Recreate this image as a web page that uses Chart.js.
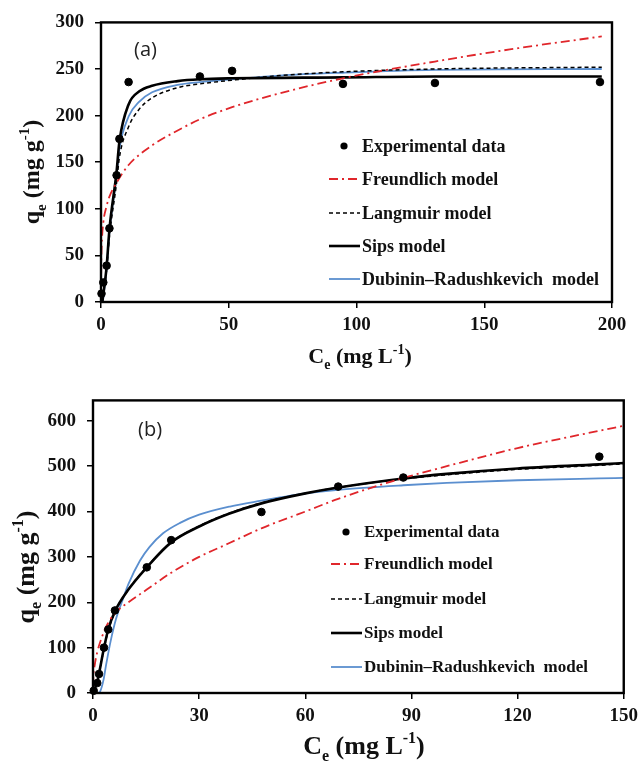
<!DOCTYPE html>
<html>
<head>
<meta charset="utf-8">
<script src="https://cdn.jsdelivr.net/npm/chart.js@4.4.1/dist/chart.umd.min.js"></script>
<style>
html, body { margin: 0; padding: 0; background: #fff; }
#chartA { position: absolute; left: 0; top: 0; }
#chartB { position: absolute; left: 0; top: 378px; }
</style>
</head>
<body>
<canvas id="chartA" width="644" height="378"></canvas>
<canvas id="chartB" width="644" height="387"></canvas>
<script>
// --- (a) data ---
const expA_x = [0.2, 0.9, 2.2, 3.3, 6.1, 7.2, 10.8, 38.7, 51.3, 94.7, 130.7, 195.3];
const expA_y = [9, 21, 39, 79, 136, 175, 236, 242, 248, 234, 235, 236];
const freundA_x = [0.02, 0.1, 0.3, 0.9, 2.2, 3.3, 6.1, 10.8, 20, 30, 38.7, 51.3, 70, 94.7, 130.7, 160, 196];
const freundA_y = [10, 40, 62, 85, 103, 113, 128, 147, 168, 184, 196, 209, 224, 240, 258, 271, 285];
const langA_x = [0.5, 0.9, 2.2, 3.3, 6.1, 7.2, 10.8, 15, 20, 30, 38.7, 51.3, 70, 94.7, 130.7, 196];
const langA_y = [0, 8, 35, 70, 128, 155, 188, 207, 219, 230, 234, 238, 243, 247, 250, 252];
const sipsA_x = [0.5, 0.9, 2.2, 3.3, 6.1, 7.2, 10.8, 15, 20, 30, 38.7, 51.3, 94.7, 130.7, 196];
const sipsA_y = [0, 8, 38, 78, 140, 172, 212, 226, 232, 237, 239, 240, 241, 242, 242];
const drA_x = [0.7, 0.9, 2.2, 3.3, 6.1, 7.2, 10.8, 15, 20, 30, 38.7, 51.3, 70, 94.7, 130.7, 196];
const drA_y = [0, 5, 36, 75, 135, 164, 199, 215, 225, 233, 236, 239, 243, 246, 249, 250];
const ticksA_x = [0, 50, 100, 150, 200];
const ticksA_y = [0, 50, 100, 150, 200, 250, 300];

// --- (b) data ---
const expB_x = [0.2, 1.2, 1.7, 3.1, 4.3, 6.2, 15.2, 22.1, 47.6, 69.3, 87.7, 143.1];
const expB_y = [5, 22, 42, 100, 140, 182, 277, 337, 399, 455, 475, 521];
const freundB_x = [0.02, 0.1, 0.5, 1.2, 2.6, 4.3, 7, 10, 15.2, 22.1, 30, 38.4, 47.6, 60, 69.3, 87.7, 100, 120, 143.1, 150];
const freundB_y = [15, 35, 62, 90, 125, 155, 182, 200, 228, 265, 300, 330, 363, 400, 428, 474, 500, 540, 578, 589];
const langB_x = [0, 1.2, 3.1, 4.3, 6.2, 10, 15.2, 22.1, 30, 38.4, 47.6, 60, 69.3, 87.7, 100, 120, 143.1, 150];
const langB_y = [0, 24, 97, 137, 178, 228, 278, 332, 368, 396, 419, 440, 453, 472, 481, 493, 502, 505];
const sipsB_x = [0, 1.2, 3.1, 4.3, 6.2, 10, 15.2, 22.1, 30, 38.4, 47.6, 60, 69.3, 87.7, 100, 120, 143.1, 150];
const sipsB_y = [0, 25, 99, 140, 180, 228, 277, 332, 367, 395, 418, 440, 453, 473, 483, 495, 504, 507];
const drB_x = [1.5, 2, 3, 3.7, 5, 6.5, 8.5, 10, 13.3, 16, 19.8, 24.6, 30, 38.7, 47.6, 52.8, 60, 69.3, 87.7, 100, 120, 143.1, 150];
const drB_y = [0, 3, 30, 62, 115, 163, 208, 240, 292, 322, 352, 375, 393, 411, 424, 431, 440, 448, 458, 463, 469, 473, 474];
const ticksB_x = [0, 30, 60, 90, 120, 150];
const ticksB_y = [0, 100, 200, 300, 400, 500, 600];

const labels = ['Experimental data', 'Freundlich model', 'Langmuir model', 'Sips model', 'Dubinin\u2013Radushkevich  model'];

const SERIF = '"Liberation Serif", "Times New Roman", serif';

function pts(xs, ys) {
    return xs.map((x, i) => ({ x: x, y: ys[i] }));
}

function makeDatasets(exp, fr, la, si, dr) {
    return [
        { label: labels[0], data: exp, showLine: false, pointRadius: 3.8, pointBackgroundColor: '#000', backgroundColor: '#000', borderColor: '#000', clip: false },
        { label: labels[1], data: fr, showLine: true, pointRadius: 0, borderColor: '#e0262b', borderWidth: 1.8, borderDash: [9, 4, 2, 4], cubicInterpolationMode: 'monotone' },
        { label: labels[2], data: la, showLine: true, pointRadius: 0, borderColor: '#000', borderWidth: 1.5, borderDash: [4, 3], cubicInterpolationMode: 'monotone' },
        { label: labels[3], data: si, showLine: true, pointRadius: 0, borderColor: '#000', borderWidth: 2.6, cubicInterpolationMode: 'monotone' },
        { label: labels[4], data: dr, showLine: true, pointRadius: 0, borderColor: '#5b8fcf', borderWidth: 1.8, cubicInterpolationMode: 'monotone' }
    ];
}

// draw a text made of normal / sub / sup pieces, centred on (cx, cy)
function richText(ctx, parts, cx, cy, size, rotate) {
    ctx.save();
    ctx.translate(cx, cy);
    if (rotate) ctx.rotate(-Math.PI / 2);
    ctx.textBaseline = 'alphabetic';
    ctx.fillStyle = '#111';
    const fontFor = k => 'bold ' + (k === 'n' ? size : Math.round(size * 0.62)) + 'px ' + SERIF;
    let total = 0;
    parts.forEach(p => { ctx.font = fontFor(p[1]); total += ctx.measureText(p[0]).width; });
    let x = -total / 2;
    const base = size * 0.33;
    parts.forEach(p => {
        ctx.font = fontFor(p[1]);
        let dy = 0;
        if (p[1] === 'sub') dy = size * 0.28;
        if (p[1] === 'sup') dy = -size * 0.42;
        ctx.fillText(p[0], x, base + dy);
        x += ctx.measureText(p[0]).width;
    });
    ctx.restore();
}

function decorPlugin(o) {
    return {
        id: 'decor',
        afterDraw(chart) {
            const ctx = chart.ctx;
            const a = chart.chartArea;
            // frame
            ctx.save();
            ctx.strokeStyle = '#000';
            ctx.lineWidth = 2.4;
            ctx.strokeRect(a.left, a.top, a.right - a.left, a.bottom - a.top);
            ctx.restore();
            // panel letter
            ctx.save();
            ctx.font = '20px "Open Sans", "Noto Sans", sans-serif';
            ctx.fillStyle = '#222';
            ctx.textBaseline = 'middle';
            ctx.fillText(o.letter, o.letterX, o.letterY);
            ctx.restore();
            // legend
            chart.data.datasets.forEach((ds, i) => {
                const y = o.legendY[i];
                ctx.save();
                if (ds.showLine === false) {
                    ctx.fillStyle = '#000';
                    ctx.beginPath();
                    ctx.arc(o.legendX + 15, y, 3.6, 0, Math.PI * 2);
                    ctx.fill();
                } else {
                    ctx.strokeStyle = ds.borderColor;
                    ctx.lineWidth = ds.borderWidth;
                    ctx.setLineDash(ds.borderDash || []);
                    ctx.beginPath();
                    ctx.moveTo(o.legendX, y);
                    ctx.lineTo(o.legendX + 31, y);
                    ctx.stroke();
                }
                ctx.setLineDash([]);
                ctx.fillStyle = '#111';
                ctx.font = 'bold ' + o.legendSize + 'px ' + SERIF;
                ctx.textBaseline = 'middle';
                ctx.fillText(ds.label, o.legendX + 33, y + 1);
                ctx.restore();
            });
            // axis titles
            richText(ctx, [['C', 'n'], ['e', 'sub'], [' (mg L', 'n'], ['-1', 'sup'], [')', 'n']], o.xTitle[0], o.xTitle[1], o.xTitle[2], false);
            richText(ctx, [['q', 'n'], ['e', 'sub'], [' (mg g', 'n'], ['-1', 'sup'], [')', 'n']], o.yTitle[0], o.yTitle[1], o.yTitle[2], true);
        }
    };
}

function makeChart(id, datasets, xMax, yMax, xTicks, yTicks, box, o) {
    const tickFont = { family: SERIF, weight: 'bold', size: 19 };
    return new Chart(document.getElementById(id), {
        type: 'scatter',
        data: { datasets: datasets },
        options: {
            responsive: false,
            animation: false,
            layout: { padding: { left: 0, top: box.top, right: box.right, bottom: 0 } },
            plugins: { legend: { display: false }, tooltip: { enabled: false } },
            scales: {
                x: {
                    type: 'linear', min: 0, max: xMax,
                    afterBuildTicks: s => { s.ticks = xTicks.map(v => ({ value: v })); },
                    afterFit: s => { s.height = box.xh; },
                    ticks: { font: tickFont, color: '#111', padding: 6, maxRotation: 0 },
                    grid: { drawOnChartArea: false, drawTicks: true, tickLength: 6, color: '#000', lineWidth: 1.5 },
                    border: { display: false }
                },
                y: {
                    type: 'linear', min: 0, max: yMax,
                    afterBuildTicks: s => { s.ticks = yTicks.map(v => ({ value: v })); },
                    afterFit: s => { s.width = box.yw; },
                    ticks: { font: tickFont, color: '#111', padding: 11 },
                    grid: { drawOnChartArea: false, drawTicks: true, tickLength: 6, color: '#000', lineWidth: 1.5 },
                    border: { display: false }
                }
            }
        },
        plugins: [decorPlugin(o)]
    });
}

makeChart('chartA',
    makeDatasets(pts(expA_x, expA_y), pts(freundA_x, freundA_y), pts(langA_x, langA_y), pts(sipsA_x, sipsA_y), pts(drA_x, drA_y)),
    200, 300, ticksA_x, ticksA_y,
    { top: 17, right: 32, xh: 76, yw: 101 },
    { letter: '(a)', letterX: 134, letterY: 50, legendX: 329, legendY: [146, 179, 213, 246, 279], legendSize: 18,
      xTitle: [360, 356, 22], yTitle: [31, 172, 24] });

makeChart('chartB',
    makeDatasets(pts(expB_x, expB_y), pts(freundB_x, freundB_y), pts(langB_x, langB_y), pts(sipsB_x, sipsB_y), pts(drB_x, drB_y)),
    150, 645, ticksB_x, ticksB_y,
    { top: 14, right: 19, xh: 72, yw: 93 },
    { letter: '(b)', letterX: 138, letterY: 52, legendX: 331, legendY: [154, 186, 221, 255, 289], legendSize: 17,
      xTitle: [364, 367, 26], yTitle: [25, 189, 26] });
</script>
</body>
</html>
